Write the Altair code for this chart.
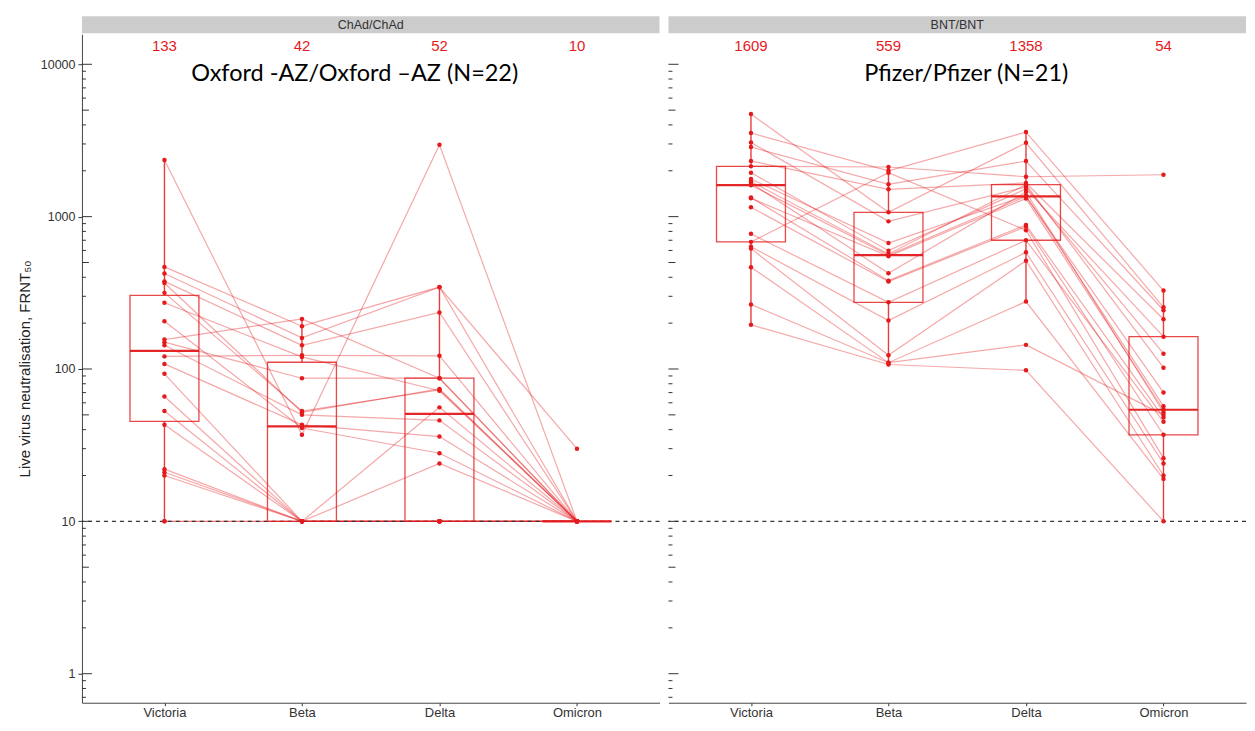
import altair as alt
import pandas as pd
import numpy as np

variants = ["Victoria", "Beta", "Delta", "Omicron"]
RED = "#e41a1c"

# ChAd/ChAd (Oxford-AZ), one entry per subject, aligned across variants
chad_victoria = [2356, 468, 423, 376, 367, 316, 272, 206, 156, 150, 143, 121, 108, 93, 66, 53, 43, 22, 21, 20, 10, 10]
chad_beta     = [37, 191, 160, 143, 52, 53, 120, 41, 213, 87, 50, 123, 43, 10, 10, 10, 10, 10, 10, 10, 10, 10]
chad_delta    = [2966, 345, 344, 235, 74, 73, 72, 28, 87, 87, 46, 122, 36, 56, 24, 10, 10, 10, 10, 10, 10, 10]
chad_omicron  = [10, 10, 30, 10, 10, 10, 10, 10, 10, 10, 10, 10, 10, 10, 10, 10, 10, 10, 10, 10, 10, 10]

# BNT/BNT (Pfizer)
bnt_victoria = [4710, 3540, 3070, 2864, 2317, 2138, 1944, 1767, 1700, 1663, 1609, 1334, 1320, 1151, 771, 683, 635, 617, 466, 265, 195]
bnt_beta     = [1067, 2000, 931, 1629, 1511, 2118, 598, 671, 569, 425, 559, 380, 549, 375, 274, 1944, 208, 123, 110, 110, 107]
bnt_delta    = [3055, 3590, 1566, 2317, 1663, 1828, 1520, 1374, 1622, 1450, 1358, 883, 1314, 860, 700, 815, 583, 514, 277, 144, 98]
bnt_omicron  = [254, 327, 126, 243, 212, 1884, 163, 57, 102, 52, 70, 48, 54, 37, 45, 26, 24, 20, 19, 50, 10]

chad_median_labels = ["133", "42", "52", "10"]
bnt_median_labels = ["1609", "559", "1358", "54"]

chad_strip = "ChAd/ChAd"
bnt_strip = "BNT/BNT"
chad_title = "Oxford -AZ/Oxford \u2013AZ (N=22)"
bnt_title = "Pfizer/Pfizer (N=21)"
y_title = "Live virus neutralisation, FRNT\u2085\u2080"

tick_major = [1, 10, 100, 1000, 10000]
tick_mid = [5, 50, 500, 5000]
tick_minor = [0.7, 0.8, 0.9, 2, 3, 4, 6, 7, 8, 9, 20, 30, 40, 60, 70, 80, 90,
              200, 300, 400, 600, 700, 800, 900, 2000, 3000, 4000, 6000, 7000, 8000, 9000]

W = 578
H = 669
Y_DOMAIN = [0.645, 15740]


def long_df(cols):
    rows = []
    for vi, (v, vals) in enumerate(zip(variants, cols)):
        for s, val in enumerate(vals):
            rows.append({"subject": s, "variant": v, "vidx": vi, "value": val})
    return pd.DataFrame(rows)


def box_stats(df, labels):
    rows = []
    for v, lab in zip(variants, labels):
        vals = df.loc[df.variant == v, "value"].to_numpy(float)
        lg = np.log10(vals)
        q1, med, q3 = np.percentile(lg, [25, 50, 75])
        iqr = q3 - q1
        lo = vals[lg >= q1 - 1.5 * iqr - 1e-9].min()
        hi = vals[lg <= q3 + 1.5 * iqr + 1e-9].max()
        rows.append({"variant": v, "q1": 10 ** q1, "med": 10 ** med, "q3": 10 ** q3,
                     "lo": lo, "hi": hi, "label": lab})
    return pd.DataFrame(rows)


def panel(cols, labels, title, title_x, left):
    df = long_df(cols)
    st = box_stats(df, labels)
    xs = alt.Scale(type="point", domain=variants, padding=0.6)
    ys = alt.Scale(type="log", domain=Y_DOMAIN, nice=False)
    xaxis = alt.Axis(title=None, labelFontSize=13, labelColor="#333", tickSize=3,
                     tickColor="#333", domainColor="#444", labelPadding=1, grid=False,
                     labelAngle=0)
    if left:
        yaxis = alt.Axis(values=tick_major, format="d", tickSize=4, tickColor="#333",
                         labelFontSize=12.5, labelColor="#333", labelPadding=3,
                         title=y_title, titleFontSize=15, titleFontWeight="normal",
                         titleColor="#222", titlePadding=8, grid=False, domainColor="#444")
    else:
        yaxis = None
    x = alt.X("variant:N", scale=xs, sort=variants, axis=xaxis)

    def Y(f):
        return alt.Y(f, scale=ys, axis=yaxis)

    lines = alt.Chart(df).mark_line(color=RED, opacity=0.38, strokeWidth=1.2).encode(
        x=x, y=Y("value:Q"), detail="subject:N", order="vidx:Q")
    ref = alt.Chart(pd.DataFrame({"v": [10]})).mark_rule(
        color="#333", strokeDash=[4, 4], strokeWidth=1.1).encode(y=Y("v:Q"))
    box = alt.Chart(st).mark_bar(size=69, fillOpacity=0, stroke=RED, strokeWidth=1.3,
                                 strokeOpacity=0.8).encode(x=x, y=Y("q1:Q"), y2="q3:Q")
    wlo = alt.Chart(st).mark_rule(color=RED, strokeWidth=1.4, opacity=0.85).encode(
        x=x, y=Y("lo:Q"), y2="q1:Q")
    whi = alt.Chart(st).mark_rule(color=RED, strokeWidth=1.4, opacity=0.85).encode(
        x=x, y=Y("q3:Q"), y2="hi:Q")
    med = alt.Chart(st).mark_tick(size=69, thickness=2.2, color=RED, opacity=0.95).encode(
        x=x, y=Y("med:Q"))
    pts = alt.Chart(df).mark_circle(size=20, color=RED, opacity=1).encode(
        x=x, y=Y("value:Q"))
    mlab = alt.Chart(st).mark_text(color=RED, fontSize=15, baseline="middle").encode(
        x=x, y=alt.value(12), text="label:N")
    ttl = alt.Chart(pd.DataFrame({"t": [title]})).mark_text(
        fontSize=23.5, font="Lato", color="black", baseline="middle").encode(
        x=alt.value(title_x), y=alt.value(40), text="t:N")
    tmaj = alt.Chart(pd.DataFrame({"t": tick_major})).mark_rule(color="#333", strokeWidth=1).encode(
        x=alt.value(0), x2=alt.value(10), y=Y("t:Q"))
    tmid = alt.Chart(pd.DataFrame({"t": tick_mid})).mark_rule(color="#333", strokeWidth=1).encode(
        x=alt.value(0), x2=alt.value(7), y=Y("t:Q"))
    tmin = alt.Chart(pd.DataFrame({"t": tick_minor})).mark_rule(color="#333", strokeWidth=1).encode(
        x=alt.value(0), x2=alt.value(4), y=Y("t:Q"))

    return alt.layer(lines, ref, wlo, whi, box, med, pts, tmaj, tmid, tmin, mlab, ttl).properties(
        width=W, height=H)


def strip(text):
    return alt.Chart(pd.DataFrame({"t": [text]})).mark_text(
        fontSize=12.5, color="#333", baseline="middle").encode(
        x=alt.value(W / 2), y=alt.value(8.5), text="t:N").properties(
        width=W, height=17, view=alt.ViewBackground(fill="#cccccc", stroke=None))


left = alt.vconcat(strip(chad_strip),
                   panel([chad_victoria, chad_beta, chad_delta, chad_omicron],
                         chad_median_labels, chad_title, 273, True),
                   spacing=1)
right = alt.vconcat(strip(bnt_strip),
                    panel([bnt_victoria, bnt_beta, bnt_delta, bnt_omicron],
                          bnt_median_labels, bnt_title, 298, False),
                    spacing=1)

chart = alt.hconcat(left, right, spacing=7).properties(
    padding={"left": 9, "top": 8, "right": 0, "bottom": 0}
).configure(font="Liberation Sans").configure_view(stroke=None)

chart.save("out.html", embed_options={"renderer": "svg", "actions": False})
